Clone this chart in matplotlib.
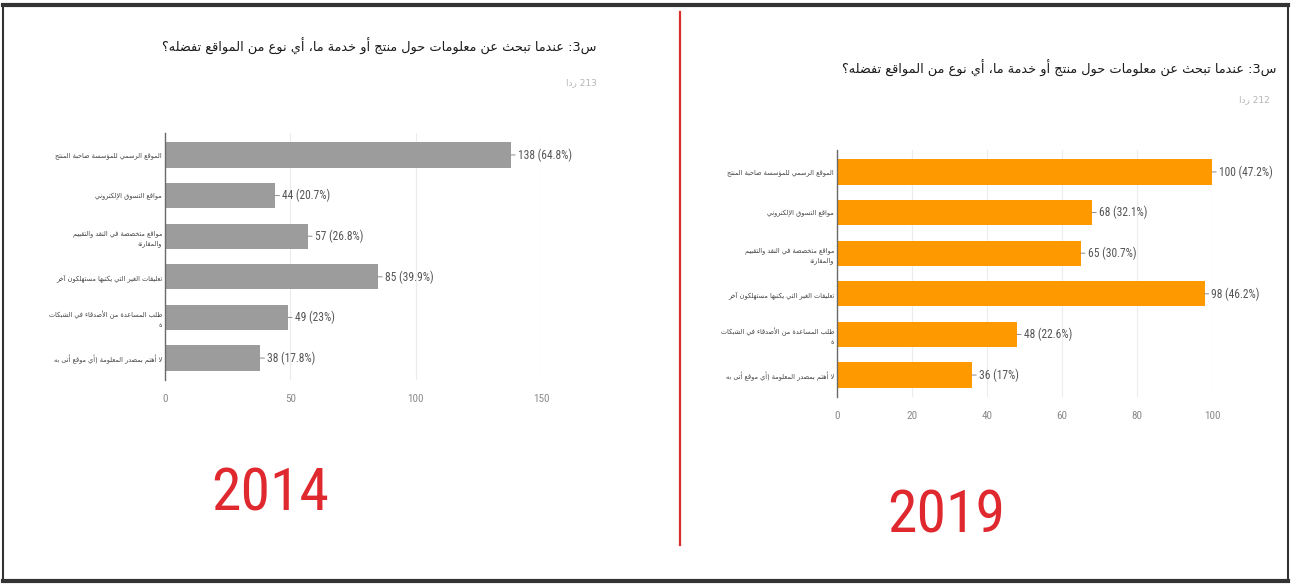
import matplotlib
matplotlib.use("Agg")
import matplotlib.pyplot as plt
from matplotlib.lines import Line2D

# ---------------------------------------------------------------- data
question = "س3: عندما تبحث عن معلومات حول منتج أو خدمة ما، أي نوع من المواقع تفضله؟"
categories = [
    "الموقع الرسمي للمؤسسة صاحبة المنتج",
    "مواقع التسوق الإلكتروني",
    "مواقع متخصصة في النقد والتقييم\nوالمقارنة",
    "تعليقات الغير التي يكتبها مستهلكون آخر",
    "طلب المساعدة من الأصدقاء في الشبكات\nة",
    "لا أهتم بمصدر المعلومة (أي موقع أتى به",
]
responses_2014 = 213
counts_2014 = [138, 44, 57, 85, 49, 38]
pct_2014 = ["64.8%", "20.7%", "26.8%", "39.9%", "23%", "17.8%"]
xticks_2014 = [0, 50, 100, 150]

responses_2019 = 212
counts_2019 = [100, 68, 65, 98, 48, 36]
pct_2019 = ["47.2%", "32.1%", "30.7%", "46.2%", "22.6%", "17%"]
xticks_2019 = [0, 20, 40, 60, 80, 100]

years = ["2014", "2019"]

# ------------------------------------------------------- arabic shaping
# forms: (isolated, final, initial, medial); right-joining letters have 2
_FORMS = {
    "ء": (0xFE80,), "آ": (0xFE81, 0xFE82), "أ": (0xFE83, 0xFE84),
    "ؤ": (0xFE85, 0xFE86), "إ": (0xFE87, 0xFE88),
    "ئ": (0xFE89, 0xFE8A, 0xFE8B, 0xFE8C), "ا": (0xFE8D, 0xFE8E),
    "ب": (0xFE8F, 0xFE90, 0xFE91, 0xFE92), "ة": (0xFE93, 0xFE94),
    "ت": (0xFE95, 0xFE96, 0xFE97, 0xFE98), "ث": (0xFE99, 0xFE9A, 0xFE9B, 0xFE9C),
    "ج": (0xFE9D, 0xFE9E, 0xFE9F, 0xFEA0), "ح": (0xFEA1, 0xFEA2, 0xFEA3, 0xFEA4),
    "خ": (0xFEA5, 0xFEA6, 0xFEA7, 0xFEA8), "د": (0xFEA9, 0xFEAA),
    "ذ": (0xFEAB, 0xFEAC), "ر": (0xFEAD, 0xFEAE), "ز": (0xFEAF, 0xFEB0),
    "س": (0xFEB1, 0xFEB2, 0xFEB3, 0xFEB4), "ش": (0xFEB5, 0xFEB6, 0xFEB7, 0xFEB8),
    "ص": (0xFEB9, 0xFEBA, 0xFEBB, 0xFEBC), "ض": (0xFEBD, 0xFEBE, 0xFEBF, 0xFEC0),
    "ط": (0xFEC1, 0xFEC2, 0xFEC3, 0xFEC4), "ظ": (0xFEC5, 0xFEC6, 0xFEC7, 0xFEC8),
    "ع": (0xFEC9, 0xFECA, 0xFECB, 0xFECC), "غ": (0xFECD, 0xFECE, 0xFECF, 0xFED0),
    "ف": (0xFED1, 0xFED2, 0xFED3, 0xFED4), "ق": (0xFED5, 0xFED6, 0xFED7, 0xFED8),
    "ك": (0xFED9, 0xFEDA, 0xFEDB, 0xFEDC), "ل": (0xFEDD, 0xFEDE, 0xFEDF, 0xFEE0),
    "م": (0xFEE1, 0xFEE2, 0xFEE3, 0xFEE4), "ن": (0xFEE5, 0xFEE6, 0xFEE7, 0xFEE8),
    "ه": (0xFEE9, 0xFEEA, 0xFEEB, 0xFEEC), "و": (0xFEED, 0xFEEE),
    "ى": (0xFEEF, 0xFEF0), "ي": (0xFEF1, 0xFEF2, 0xFEF3, 0xFEF4),
}
_LAM_ALEF = {"آ": (0xFEF5, 0xFEF6), "أ": (0xFEF7, 0xFEF8),
             "إ": (0xFEF9, 0xFEFA), "ا": (0xFEFB, 0xFEFC)}
_MIRROR = {"(": ")", ")": "(", "[": "]", "]": "[", "<": ">", ">": "<"}


def _is_mark(c):
    return 0x064B <= ord(c) <= 0x0652


def _shape_run(letters):
    """Contextual forms for one run of Arabic letters, in logical order."""
    out = []
    i, n = 0, len(letters)
    while i < n:
        c = letters[i]
        prev = letters[i - 1] if i > 0 else None
        joins_prev = prev is not None and len(_FORMS.get(prev, ())) == 4
        if c == "ل" and i + 1 < n and letters[i + 1] in _LAM_ALEF:
            iso, fin = _LAM_ALEF[letters[i + 1]]
            out.append(chr(fin if joins_prev else iso))
            i += 2
            continue
        forms = _FORMS[c]
        nxt = letters[i + 1] if i + 1 < n else None
        joins_next = len(forms) == 4 and nxt in _FORMS and nxt != "ء"
        if len(forms) == 1:
            out.append(chr(forms[0]))
        elif joins_prev and joins_next:
            out.append(chr(forms[3]))
        elif joins_prev:
            out.append(chr(forms[1]))
        elif joins_next:
            out.append(chr(forms[2]))
        else:
            out.append(chr(forms[0]))
        i += 1
    return out


def _is_ltr(c):
    return c.isascii() and c.isalnum()


def _visual_line(line):
    # 1) shape the Arabic letter runs (logical order)
    chars = [c for c in line if not _is_mark(c)]
    logical, run = [], []
    for c in chars + [None]:
        if c is not None and c in _FORMS:
            run.append(c)
            continue
        if run:
            logical.extend(_shape_run(run))
            run = []
        if c is not None:
            logical.append(c)
    # 2) split into LTR runs (digits/latin with inner . , %) and the rest
    segs, i, n = [], 0, len(logical)
    while i < n:
        if _is_ltr(logical[i]):
            j = i + 1
            while j < n and (_is_ltr(logical[j]) or (
                    logical[j] in ".,%" and j + 1 < n and _is_ltr(logical[j + 1]))):
                j += 1
            segs.append(("L", "".join(logical[i:j])))
            i = j
        else:
            j = i + 1
            while j < n and not _is_ltr(logical[j]):
                j += 1
            segs.append(("R", logical[i:j]))
            i = j
    # 3) right-to-left paragraph: reverse segment order and RTL runs
    out = []
    for kind, seg in reversed(segs):
        if kind == "L":
            out.append(seg)
        else:
            out.append("".join(_MIRROR.get(c, c) for c in reversed(seg)))
    return "".join(out)


def ar(text):
    return "\n".join(_visual_line(l) for l in text.split("\n"))


# ---------------------------------------------------------------- figure
plt.rcParams["font.family"] = ["DejaVu Sans"]
narrow = ["Liberation Sans Narrow", "DejaVu Sans Condensed",
          "Roboto Condensed", "Liberation Sans"]
W, H = 1292, 586
fig = plt.figure(figsize=(W / 100, H / 100), dpi=100)
fig.patch.set_facecolor("white")


def px_axes(x0, x1, ytop, ybot):
    return fig.add_axes([x0 / W, 1 - ybot / H, (x1 - x0) / W, (ybot - ytop) / H])


def panel(ax, counts, pcts, xticks, color):
    y = list(range(len(counts)))
    ax.barh(y, counts, height=0.62, color=color, zorder=2)
    ax.set_xlim(xticks[0], xticks[-1])
    ax.set_ylim(len(counts) - 0.46, -0.54)
    ax.set_xticks(xticks)
    ax.set_xticklabels([str(t) for t in xticks], family=narrow, fontsize=8)
    ax.tick_params(axis="x", length=0, colors="#8a8a8a", pad=10)
    ax.set_yticks(y)
    ax.set_yticklabels([ar(c) for c in categories], fontsize=4.7,
                       color="#444444", ha="right", linespacing=1.6)
    ax.tick_params(axis="y", length=0, pad=2)
    ax.grid(axis="x", color="#ececec", lw=0.8, zorder=0)
    for s in ("top", "right", "bottom"):
        ax.spines[s].set_visible(False)
    ax.spines["left"].set_color("#6a6a6a")
    ax.spines["left"].set_linewidth(1.0)
    ax.spines["left"].set_zorder(3)
    for yi, (v, p) in enumerate(zip(counts, pcts)):
        ax.annotate(f"{v} ({p})", xy=(v, yi), xytext=(5, 0),
                    textcoords="offset points", va="center", ha="left",
                    fontsize=8.3, family=narrow, color="#555555",
                    annotation_clip=False,
                    arrowprops=dict(arrowstyle="-", color="#8a8a8a", lw=0.7,
                                    shrinkA=0, shrinkB=0))


ax1 = px_axes(165, 541, 133, 380)
panel(ax1, counts_2014, pct_2014, xticks_2014, "#9c9c9c")

ax2 = px_axes(837, 1212, 150, 397)
panel(ax2, counts_2019, pct_2019, xticks_2019, "#ff9900")

# titles and response counts
fig.text(597 / W, 1 - 46 / H, ar(question), ha="right", va="center",
         fontsize=9.3, color="#1a1a1a")
fig.text(597 / W, 1 - 83 / H, ar(f"{responses_2014} ردا"), ha="right",
         va="center", fontsize=6.5, color="#b5b5b5")
fig.text(1277 / W, 1 - 68 / H, ar(question), ha="right", va="center",
         fontsize=9.3, color="#1a1a1a")
fig.text(1270 / W, 1 - 100 / H, ar(f"{responses_2019} ردا"), ha="right",
         va="center", fontsize=6.5, color="#b5b5b5")

# year captions
fig.text(270 / W, 1 - 494 / H, years[0], ha="center", va="center",
         fontsize=43, color="#e0282f", family=narrow)
fig.text(946 / W, 1 - 516 / H, years[1], ha="center", va="center",
         fontsize=43, color="#e0282f", family=narrow)

# divider and frame
fig.add_artist(Line2D([680 / W, 680 / W], [1 - 12 / H, 1 - 545 / H],
                      transform=fig.transFigure, color="#d9302f", lw=1.6))
for xs, ys, lw in [
    ([3, 1288], [5, 5], 3.0),
    ([3, 1288], [581, 581], 3.0),
    ([3, 3], [5, 581], 1.5),
    ([1288, 1288], [5, 581], 1.5),
]:
    fig.add_artist(Line2D([x / W for x in xs], [1 - y / H for y in ys],
                          transform=fig.transFigure, color="#333333", lw=lw))

fig.savefig("out.png", dpi=100, facecolor="white")
